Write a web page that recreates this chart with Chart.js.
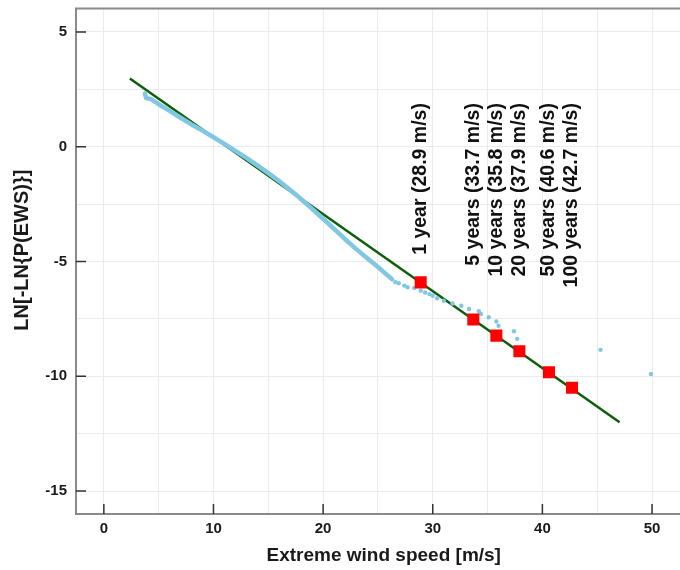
<!DOCTYPE html>
<html>
<head>
<meta charset="utf-8">
<script src="https://cdn.jsdelivr.net/npm/chart.js@4"></script>
<style>
  html, body { margin: 0; padding: 0; background: #fff; overflow: hidden; }
  #wrap { width: 680px; height: 570px; overflow: hidden; }
</style>
</head>
<body>
<div id="wrap"><canvas id="gumbelChart" width="700" height="570"></canvas></div>
<script>
// 观测值（密集部分，连成粗线）
const obsX = [3.74, 3.85, 4.3, 5, 6, 7, 8, 9, 10, 11, 12, 13, 14, 15, 16, 17, 17.8, 18.5, 19.2, 20, 21, 22, 23, 24, 25, 26.3];
const obsY = [2.32, 2.12, 2.07, 1.85, 1.56, 1.26, 0.97, 0.70, 0.41, 0.12, -0.18, -0.49, -0.81, -1.15, -1.50, -1.89, -2.20, -2.50, -2.79, -3.14, -3.58, -4.03, -4.45, -4.85, -5.24, -5.78];

// 观测值（稀疏尾部，单独的点）
const tailX = [26.6, 26.9, 27.4, 27.7, 28.3, 28.9, 29.3, 29.7, 30.0, 30.4, 31.0, 31.8, 32.6, 33.3, 34.2, 34.4, 35.1, 35.8, 36.0, 37.4, 37.7, 45.3, 49.9];
const tailY = [-5.90, -5.95, -6.05, -6.12, -6.15, -6.27, -6.35, -6.42, -6.49, -6.60, -6.71, -6.83, -6.93, -7.07, -7.17, -7.29, -7.43, -7.61, -7.80, -8.04, -8.37, -8.85, -9.90];

// Gumbel拟合直线（两个端点）
const fitX = [2.37, 47.04];
const fitY = [2.97, -12.0];

// 重现期
const periodNames = ['1 year', '5 years', '10 years', '20 years', '50 years', '100 years'];
const periodX = [28.9, 33.7, 35.8, 37.9, 40.6, 42.7];
const periodY = [-5.91, -7.53, -8.23, -8.91, -9.83, -10.5];

// 网格/刻度
const xGridValues = [0, 5, 10, 15, 20, 25, 30, 35, 40, 45, 50];
const yGridValues = [-15, -12.5, -10, -7.5, -5, -2.5, 0, 2.5, 5];

const FONT = "'Liberation Sans', Arial, sans-serif";

function toPoints(xs, ys) {
    return xs.map((x, i) => ({ x: x, y: ys[i] }));
}

// 坐标框和内向刻度线
const framePlugin = {
    id: 'frame',
    beforeDatasetsDraw(chart) {
        const { ctx, chartArea: a, scales } = chart;
        ctx.save();
        ctx.strokeStyle = '#8a8a8a';
        ctx.lineWidth = 2;
        ctx.beginPath();
        ctx.moveTo(a.right, a.top);
        ctx.lineTo(a.left, a.top);
        ctx.lineTo(a.left, a.bottom);
        ctx.lineTo(a.right, a.bottom);
        ctx.stroke();

        ctx.strokeStyle = '#333';
        ctx.lineWidth = 1.5;
        ctx.beginPath();
        xGridValues.filter(v => v % 10 === 0).forEach(v => {
            const px = scales.x.getPixelForValue(v);
            ctx.moveTo(px, a.bottom);
            ctx.lineTo(px, a.bottom - 10);
        });
        yGridValues.filter(v => v % 5 === 0).forEach(v => {
            const py = scales.y.getPixelForValue(v);
            ctx.moveTo(a.left, py);
            ctx.lineTo(a.left + 10, py);
        });
        ctx.stroke();
        ctx.restore();
    }
};

// 竖排重现期标签
const periodLabelPlugin = {
    id: 'periodLabels',
    afterDatasetsDraw(chart, args, opts) {
        const { ctx, scales } = chart;
        const yEnd = scales.y.getPixelForValue(opts.endValue);
        ctx.save();
        ctx.fillStyle = '#111';
        ctx.font = 'bold 19.5px ' + FONT;
        ctx.textAlign = 'right';
        ctx.textBaseline = 'middle';
        periodNames.forEach((name, i) => {
            const px = scales.x.getPixelForValue(periodX[i]);
            ctx.save();
            ctx.translate(px, yEnd);
            ctx.rotate(-Math.PI / 2);
            ctx.fillText(name + ' (' + periodX[i].toFixed(1) + ' m/s)', 0, 0);
            ctx.restore();
        });
        ctx.restore();
    }
};

new Chart(document.getElementById('gumbelChart'), {
    type: 'scatter',
    data: {
        datasets: [
            {
                label: 'return periods',
                data: toPoints(periodX, periodY),
                pointStyle: 'rect',
                pointRadius: 8.5,
                backgroundColor: '#ff0000',
                borderWidth: 0,
                order: 0
            },
            {
                label: 'observed',
                data: toPoints(obsX, obsY),
                showLine: true,
                borderColor: '#80c8e2',
                borderWidth: 4.5,
                borderCapStyle: 'round',
                borderJoinStyle: 'round',
                pointRadius: 0,
                tension: 0,
                order: 1
            },
            {
                label: 'observed tail',
                data: toPoints(tailX, tailY),
                pointRadius: 2.2,
                backgroundColor: '#80c8e2',
                borderWidth: 0,
                order: 1
            },
            {
                label: 'fit',
                data: toPoints(fitX, fitY),
                showLine: true,
                borderColor: '#0d5e0d',
                borderWidth: 2.5,
                pointRadius: 0,
                order: 2
            }
        ]
    },
    options: {
        responsive: false,
        animation: false,
        devicePixelRatio: 1,
        layout: { padding: { top: 7.5, left: 0, right: 0, bottom: 0 } },
        plugins: {
            legend: { display: false },
            tooltip: { enabled: false },
            periodLabels: { endValue: 1.9 }
        },
        scales: {
            x: {
                type: 'linear',
                min: -2.54,
                max: 53.6,
                afterBuildTicks: axis => { axis.ticks = xGridValues.map(v => ({ value: v })); },
                afterFit: scale => {
                    scale.height = 56;
                    scale.paddingLeft = 0;
                    scale.paddingRight = 0;
                },
                border: { display: false },
                grid: { color: '#ebebeb', lineWidth: 1, drawTicks: false },
                ticks: {
                    padding: 6,
                    maxRotation: 0,
                    autoSkip: false,
                    color: '#1a1a1a',
                    font: { family: FONT, size: 15, weight: 'bold' },
                    callback: v => (v % 10 === 0 ? String(v) : '')
                },
                title: {
                    display: true,
                    text: 'Extreme wind speed [m/s]',
                    color: '#1a1a1a',
                    font: { family: FONT, size: 19, weight: 'bold' },
                    padding: { top: 0, bottom: 3 }
                }
            },
            y: {
                type: 'linear',
                min: -16,
                max: 6.02,
                afterBuildTicks: axis => { axis.ticks = yGridValues.map(v => ({ value: v })); },
                afterFit: scale => {
                    scale.width = 76;
                    scale.paddingTop = 0;
                    scale.paddingBottom = 0;
                },
                border: { display: false },
                grid: { color: '#ebebeb', lineWidth: 1, drawTicks: false },
                ticks: {
                    padding: 9,
                    autoSkip: false,
                    color: '#1a1a1a',
                    font: { family: FONT, size: 15, weight: 'bold' },
                    callback: v => (v % 5 === 0 ? String(v) : '')
                },
                title: {
                    display: true,
                    text: '    LN[-LN{P(EWS)}]',
                    color: '#1a1a1a',
                    font: { family: FONT, size: 20, weight: 'bold' },
                    padding: { top: 10, bottom: 0 }
                }
            }
        }
    },
    plugins: [framePlugin, periodLabelPlugin]
});
</script>
</body>
</html>
